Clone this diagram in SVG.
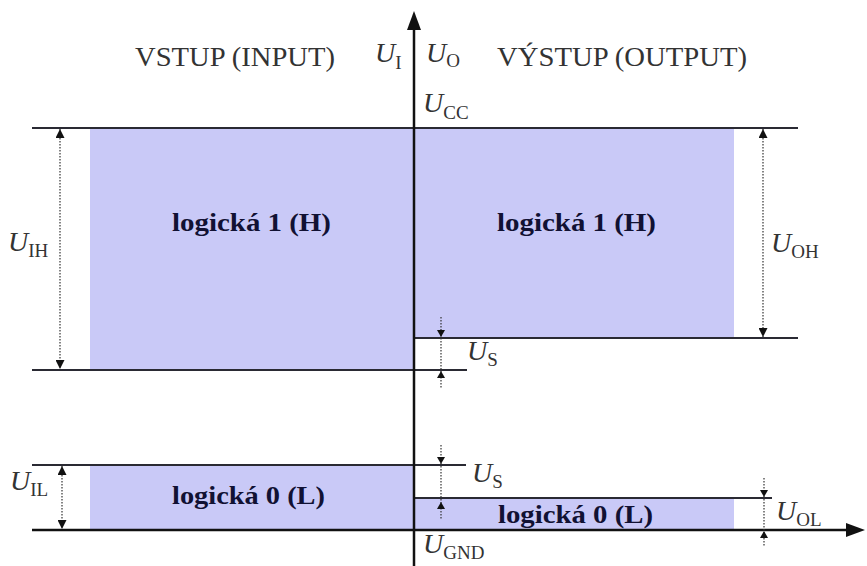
<svg xmlns="http://www.w3.org/2000/svg" width="867" height="566" viewBox="0 0 867 566">
<defs>
<style>
.fill{fill:#c9c9f7;stroke:none}
.ln{stroke:#2a2a33;stroke-width:2;fill:none}
.ax{stroke:#111;stroke-width:2.5;fill:none}
.dim{stroke:#333;stroke-width:1.2;stroke-dasharray:1.5 1.5;fill:none}
.ah{fill:#111;stroke:none}
.hdr{font-family:"Liberation Serif",serif;font-size:28px;fill:#333}
.u{font-family:"Liberation Serif",serif;font-style:italic;font-size:28px;fill:#333}
.sub{font-family:"Liberation Serif",serif;font-style:normal;font-size:19px}
.lbl{font-family:"Liberation Serif",serif;font-weight:bold;font-size:26px;fill:#111133}
</style>
<marker id="arr" viewBox="0 0 10 10" refX="10" refY="5" markerWidth="9" markerHeight="9" markerUnits="userSpaceOnUse" orient="auto-start-reverse">
<path d="M0,0 L10,5 L0,10 Z" fill="#111"/>
</marker>
</defs>
<rect width="867" height="566" fill="#ffffff"/>

<g id="zones">
<rect class="fill" x="90" y="128" width="324" height="242"/>
<rect class="fill" x="414" y="128" width="320" height="210"/>
<rect class="fill" x="90" y="465" width="324" height="65"/>
<rect class="fill" x="414" y="498" width="320" height="32"/>
</g>

<g id="levels">
<line class="ln" x1="32" y1="128" x2="798" y2="128"/>
<line class="ln" x1="414" y1="338" x2="798" y2="338"/>
<line class="ln" x1="32" y1="370" x2="467" y2="370"/>
<line class="ln" x1="32" y1="465" x2="466" y2="465"/>
<line class="ln" x1="414" y1="498" x2="772" y2="498"/>
</g>

<g id="axes">
<line class="ax" x1="414" y1="566" x2="414" y2="28"/>
<polygon class="ah" points="414,11 407,30 421,30"/>
<line class="ax" x1="32" y1="530" x2="848" y2="530"/>
<polygon class="ah" points="865,530 846,523 846,537"/>
</g>

<g id="connectors">
<line class="dim" x1="60" y1="129" x2="60" y2="369" marker-start="url(#arr)" marker-end="url(#arr)"/>
<line class="dim" x1="763" y1="129" x2="763" y2="337" marker-start="url(#arr)" marker-end="url(#arr)"/>
<line class="dim" x1="62" y1="466" x2="62" y2="529" marker-start="url(#arr)" marker-end="url(#arr)"/>
<line class="dim" x1="441" y1="317" x2="441" y2="388"/>
<polygon class="ah" points="441,337 437,330 445,330"/>
<polygon class="ah" points="441,371 437,378 445,378"/>
<line class="dim" x1="441" y1="445" x2="441" y2="520"/>
<polygon class="ah" points="441,464 437,457 445,457"/>
<polygon class="ah" points="441,502 437,509 445,509"/>
<line class="dim" x1="764" y1="478" x2="764" y2="547"/>
<polygon class="ah" points="764,497 760,490 768,490"/>
<polygon class="ah" points="764,531 760,538 768,538"/>
</g>

<g id="headers">
<text class="hdr" x="135" y="66" textLength="200" lengthAdjust="spacingAndGlyphs">VSTUP (INPUT)</text>
<text class="hdr" x="497" y="66" textLength="250" lengthAdjust="spacingAndGlyphs">VÝSTUP (OUTPUT)</text>
</g>

<g id="axis-labels">
<text class="u" x="375" y="62">U<tspan class="sub" dy="7">I</tspan></text>
<text class="u" x="426" y="62">U<tspan class="sub" dy="5">O</tspan></text>
<text class="u" x="423" y="112">U<tspan class="sub" dy="7">CC</tspan></text>
<text class="u" x="423" y="553">U<tspan class="sub" dy="6">GND</tspan></text>
</g>

<g id="dim-labels">
<text class="u" x="8" y="251">U<tspan class="sub" dy="6">IH</tspan></text>
<text class="u" x="771" y="252">U<tspan class="sub" dy="6">OH</tspan></text>
<text class="u" x="10" y="490">U<tspan class="sub" dy="6">IL</tspan></text>
<text class="u" x="776" y="520">U<tspan class="sub" dy="6">OL</tspan></text>
<text class="u" x="467" y="360">U<tspan class="sub" dy="6">S</tspan></text>
<text class="u" x="472" y="482">U<tspan class="sub" dy="6">S</tspan></text>
</g>

<g id="state-labels">
<text class="lbl" x="172" y="231" textLength="159" lengthAdjust="spacingAndGlyphs">logická 1 (H)</text>
<text class="lbl" x="497" y="231" textLength="159" lengthAdjust="spacingAndGlyphs">logická 1 (H)</text>
<text class="lbl" x="172" y="504" textLength="153" lengthAdjust="spacingAndGlyphs">logická 0 (L)</text>
<text class="lbl" x="498" y="523" textLength="155" lengthAdjust="spacingAndGlyphs">logická 0 (L)</text>
</g>
</svg>
